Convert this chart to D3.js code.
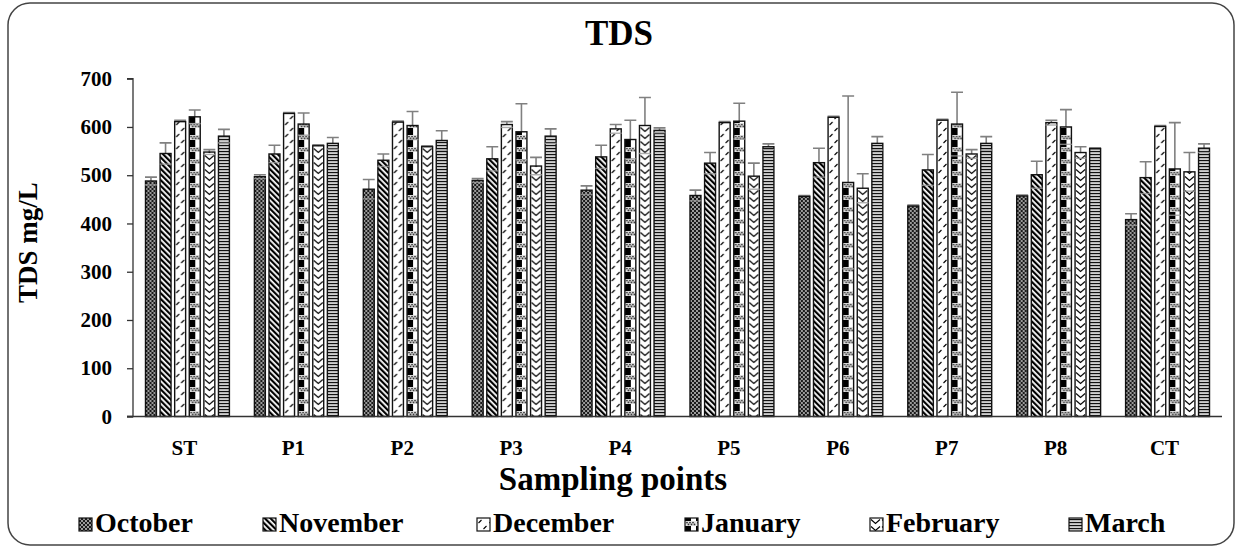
<!DOCTYPE html>
<html>
<head>
<meta charset="utf-8">
<script src="https://cdn.jsdelivr.net/npm/d3@7"></script>
<style>
  html, body { margin: 0; padding: 0; background: #fff; }
  svg { display: block; }
  text { font-family: "Liberation Serif", "Times New Roman", serif; font-weight: bold; fill: #000; }
</style>
</head>
<body>
<svg id="chart" width="1241" height="548"></svg>
<script>
// Sampling points along the x axis
const sites = ["ST", "P1", "P2", "P3", "P4", "P5", "P6", "P7", "P8", "CT"];
const months = ["October", "November", "December", "January", "February", "March"];

// Mean TDS (mg/L) per month, one value per sampling point
const october  = [488, 497, 471, 489, 469, 458, 456, 436, 457, 408];
const november = [545, 544, 531, 534, 538, 525, 526, 511, 501, 495];
const december = [611, 628, 610, 605, 596, 609, 620, 614, 609, 601];
const january  = [621, 606, 603, 590, 574, 612, 485, 606, 600, 513];
const february = [548, 561, 559, 519, 603, 498, 473, 544, 547, 507];
const march    = [581, 566, 572, 581, 593, 559, 566, 566, 555, 556];

// Error bar half-widths (mg/L)
const octoberErr  = [8, 4, 20, 4, 9, 11, 2, 2, 2, 12];
const novemberErr = [22, 18, 13, 25, 24, 22, 30, 32, 28, 33];
const decemberErr = [3, 2, 2, 6, 9, 2, 2, 2, 5, 2];
const januaryErr  = [14, 23, 29, 58, 40, 37, 179, 66, 36, 96];
const februaryErr = [5, 2, 2, 18, 58, 27, 30, 9, 12, 40];
const marchErr    = [14, 12, 20, 15, 5, 6, 14, 14, 2, 9];

const yTicks = [0, 100, 200, 300, 400, 500, 600, 700];

const seriesValues = [october, november, december, january, february, march];
const seriesErrors = [octoberErr, novemberErr, decemberErr, januaryErr, februaryErr, marchErr];

const svg = d3.select("#chart");

// ---- hatch patterns (black & white fills) ----
const defs = svg.append("defs");

function pat(id, w, h, draw, transform) {
  const p = defs.append("pattern")
    .attr("id", id)
    .attr("patternUnits", "userSpaceOnUse")
    .attr("width", w).attr("height", h);
  if (transform) p.attr("patternTransform", transform);
  draw(p);
}

// October: dark lattice with light dots
pat("p-oct", 4, 4, p => {
  p.append("rect").attr("width", 4).attr("height", 4).attr("fill", "#1a1a1a");
  p.append("circle").attr("cx", 1).attr("cy", 1).attr("r", 0.9).attr("fill", "#d8d8d8");
  p.append("circle").attr("cx", 3).attr("cy", 3).attr("r", 0.9).attr("fill", "#d8d8d8");
});
// November: wide downward diagonal stripes
pat("p-nov", 4, 4, p => {
  p.append("rect").attr("width", 4).attr("height", 4).attr("fill", "#fff");
  p.append("rect").attr("x", 0).attr("width", 2.2).attr("height", 4).attr("fill", "#000");
}, "rotate(-45)");
// December: white with short dashed upward diagonals
pat("p-dec", 11, 12, p => {
  p.append("rect").attr("width", 11).attr("height", 12).attr("fill", "#fff");
  p.append("path").attr("d", "M1.5,5 L4.5,2 M6.5,11 L9.5,8")
    .attr("stroke", "#000").attr("stroke-width", 1.1).attr("fill", "none");
});
// January: black/white columns with dotted blocks
pat("p-jan", 11, 12, p => {
  p.append("rect").attr("width", 11).attr("height", 12).attr("fill", "#fff");
  p.append("rect").attr("x", 0).attr("width", 6).attr("height", 12).attr("fill", "#000");
  p.append("rect").attr("x", 0).attr("y", 3).attr("width", 11).attr("height", 5).attr("fill", "#e0e0e0");
  [2, 5, 8].forEach(cx => {
    p.append("circle").attr("cx", cx).attr("cy", 4.6).attr("r", 0.9).attr("fill", "#333");
    p.append("circle").attr("cx", cx + 1.5).attr("cy", 6.4).attr("r", 0.9).attr("fill", "#333");
  });
});
// February: white with stacked chevrons
pat("p-feb", 11, 7, p => {
  p.append("rect").attr("width", 11).attr("height", 7).attr("fill", "#fff");
  p.append("path").attr("d", "M1,1.5 L5.5,5.5 L10,1.5")
    .attr("stroke", "#000").attr("stroke-width", 1.1).attr("fill", "none");
});
// March: narrow horizontal lines
pat("p-mar", 4, 3, p => {
  p.append("rect").attr("width", 4).attr("height", 3).attr("fill", "#fff");
  p.append("rect").attr("y", 0.8).attr("width", 4).attr("height", 1.5).attr("fill", "#111");
});

const fills = ["url(#p-oct)", "url(#p-nov)", "url(#p-dec)", "url(#p-jan)", "url(#p-feb)", "url(#p-mar)"];

// ---- outer frame ----
svg.append("rect")
  .attr("x", 8).attr("y", 3).attr("width", 1226).attr("height", 542)
  .attr("rx", 22).attr("ry", 22)
  .attr("fill", "#fff").attr("stroke", "#444").attr("stroke-width", 1.5);

// ---- scales ----
const plot = { left: 133, right: 1222, top: 78.7, bottom: 416.5 };

const x0 = d3.scaleBand()
  .domain(sites)
  .range([plot.left, plot.right])
  .paddingInner(0.196)
  .paddingOuter(0.098);

const x1 = d3.scaleBand()
  .domain(months)
  .range([0, x0.bandwidth()])
  .paddingInner(0.25)
  .paddingOuter(0.125);

const y = d3.scaleLinear().domain([0, 700]).range([plot.bottom, plot.top]);

// ---- title ----
svg.append("text")
  .attr("x", 619).attr("y", 45)
  .attr("text-anchor", "middle")
  .style("font-size", "35px")
  .text("TDS");

// ---- y axis ----
const yAxis = d3.axisLeft(y).tickValues(yTicks).tickSize(6).tickPadding(15).tickFormat(d3.format("d"));
const gy = svg.append("g").attr("transform", `translate(${plot.left},0)`).call(yAxis);
gy.select(".domain").attr("stroke", "#333").attr("stroke-width", 1.3).attr("d", `M-6,${plot.top}H0V${plot.bottom}H-6`);
gy.selectAll(".tick line").attr("stroke", "#333").attr("stroke-width", 1.3);
gy.selectAll(".tick text")
  .style("font-family", "'Liberation Serif', 'Times New Roman', serif")
  .style("font-weight", "bold")
  .style("font-size", "21px")
  .attr("fill", "#000");

svg.append("text")
  .attr("transform", `translate(37,${(plot.top + plot.bottom) / 2 - 5}) rotate(-90)`)
  .attr("text-anchor", "middle")
  .style("font-size", "27px")
  .text("TDS mg/L");

// ---- error bars (stems and upper caps behind bars) ----
const groups = svg.append("g");
sites.forEach((site, si) => {
  months.forEach((m, mi) => {
    const v = seriesValues[mi][si];
    const e = seriesErrors[mi][si];
    const cx = x0(site) + x1(m) + x1.bandwidth() / 2;
    const hw = x1.bandwidth() / 2 + 0.5;
    groups.append("path")
      .attr("d", `M${cx},${y(v + e)}V${y(v - e)} M${cx - hw},${y(v + e)}H${cx + hw}`)
      .attr("stroke", "#808080").attr("stroke-width", 1.6).attr("fill", "none");
  });
});

// ---- bars ----
const barLayer = svg.append("g");
sites.forEach((site, si) => {
  months.forEach((m, mi) => {
    const v = seriesValues[mi][si];
    barLayer.append("g")
      .attr("transform", `translate(${x0(site) + x1(m)},0)`)
      .append("rect")
      .attr("x", 0)
      .attr("y", y(v))
      .attr("width", x1.bandwidth())
      .attr("height", y(0) - y(v))
      .attr("fill", fills[mi])
      .attr("stroke", "#111").attr("stroke-width", 1.4);
  });
});

// lower caps of the error bars, drawn over the bars
const lowCaps = svg.append("g");
sites.forEach((site, si) => {
  months.forEach((m, mi) => {
    const v = seriesValues[mi][si];
    const e = seriesErrors[mi][si];
    if (e < 4) return;
    const cx = x0(site) + x1(m) + x1.bandwidth() / 2;
    const hw = x1.bandwidth() / 2 + 0.5;
    lowCaps.append("path")
      .attr("d", `M${cx - hw},${y(v - e)}H${cx + hw}`)
      .attr("stroke", "#9a9a9a").attr("stroke-width", 1.4).attr("opacity", 0.8);
  });
});

// ---- x axis ----
svg.append("line")
  .attr("x1", plot.left - 6).attr("x2", plot.right)
  .attr("y1", plot.bottom).attr("y2", plot.bottom)
  .attr("stroke", "#333").attr("stroke-width", 1.3);

svg.append("g").selectAll("text")
  .data(sites)
  .join("text")
  .attr("x", d => x0(d) + x0.bandwidth() / 2 - 3)
  .attr("y", 455)
  .attr("text-anchor", "middle")
  .style("font-size", "21px")
  .text(d => d);

svg.append("text")
  .attr("x", 613).attr("y", 490)
  .attr("text-anchor", "middle")
  .style("font-size", "33px")
  .text("Sampling points");

// ---- legend ----
const legendX = [79, 263, 477, 685, 870, 1069];
const legend = svg.append("g");
months.forEach((m, i) => {
  const g = legend.append("g").attr("transform", `translate(${legendX[i]},518)`);
  g.append("rect")
    .attr("width", 13).attr("height", 13)
    .attr("fill", fills[i]).attr("stroke", "#111").attr("stroke-width", 1.2);
  g.append("text")
    .attr("x", 16).attr("y", 14)
    .style("font-size", "28px")
    .text(m);
});
</script>
</body>
</html>
